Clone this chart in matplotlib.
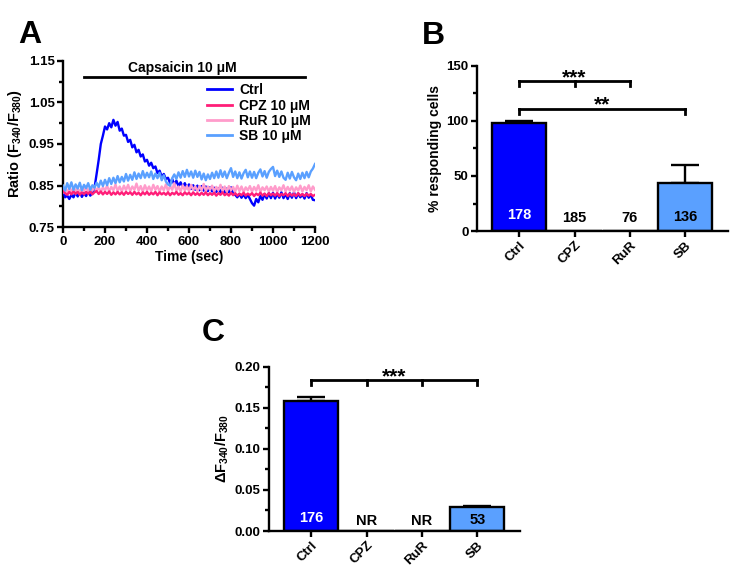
import numpy as np
import matplotlib
matplotlib.use("Agg")
import matplotlib.pyplot as plt
from matplotlib.ticker import MultipleLocator

plt.rcParams['font.family'] = ['Liberation Sans', 'DejaVu Sans']
plt.rcParams['font.weight'] = 'bold'
plt.rcParams['axes.labelweight'] = 'bold'
plt.rcParams['mathtext.fontset'] = 'custom'
plt.rcParams['mathtext.rm'] = 'Liberation Sans:bold'
plt.rcParams['mathtext.it'] = 'Liberation Sans:bold'
plt.rcParams['mathtext.bf'] = 'Liberation Sans:bold'

# ---------------- data ----------------
time_sec = list(range(0, 1201, 10))

ctrl_trace = [0.840, 0.822, 0.826, 0.818, 0.828, 0.822, 0.834, 0.824, 0.835, 0.823,
              0.832, 0.825, 0.836, 0.826, 0.833, 0.845, 0.878, 0.912, 0.950, 0.970,
              0.992, 0.985, 1.000, 0.990, 1.008, 0.994, 1.003, 0.982, 0.987, 0.970,
              0.972, 0.955, 0.960, 0.942, 0.948, 0.930, 0.936, 0.920, 0.925, 0.908,
              0.912, 0.898, 0.905, 0.892, 0.896, 0.880, 0.886, 0.872, 0.878, 0.866,
              0.869, 0.856, 0.866, 0.852, 0.862, 0.849, 0.858, 0.846, 0.856, 0.844,
              0.853, 0.842, 0.851, 0.840, 0.850, 0.839, 0.849, 0.838, 0.848, 0.837,
              0.846, 0.836, 0.845, 0.835, 0.844, 0.834, 0.845, 0.833, 0.843, 0.834,
              0.846, 0.830, 0.828, 0.822, 0.830, 0.821, 0.829, 0.820, 0.828, 0.818,
              0.808, 0.802, 0.818, 0.810, 0.825, 0.816, 0.830, 0.819, 0.832, 0.820,
              0.833, 0.819, 0.831, 0.821, 0.834, 0.820, 0.830, 0.818, 0.832, 0.821,
              0.834, 0.820, 0.831, 0.822, 0.829, 0.819, 0.832, 0.821, 0.828, 0.816,
              0.815]

cpz_trace = [0.837, 0.832, 0.828, 0.835, 0.829, 0.836, 0.830, 0.835, 0.828, 0.834,
             0.829, 0.835, 0.830, 0.836, 0.829, 0.834, 0.837, 0.830, 0.836, 0.829,
             0.835, 0.830, 0.836, 0.828, 0.834, 0.829, 0.835, 0.829, 0.834, 0.828,
             0.835, 0.830, 0.834, 0.828, 0.835, 0.829, 0.833, 0.827, 0.834, 0.829,
             0.835, 0.828, 0.833, 0.829, 0.835, 0.827, 0.834, 0.829, 0.833, 0.828,
             0.834, 0.827, 0.833, 0.829, 0.835, 0.828, 0.832, 0.827, 0.834, 0.829,
             0.833, 0.827, 0.834, 0.828, 0.832, 0.827, 0.833, 0.828, 0.834, 0.827,
             0.832, 0.828, 0.833, 0.826, 0.832, 0.828, 0.834, 0.827, 0.831, 0.826,
             0.833, 0.827, 0.832, 0.826, 0.831, 0.827, 0.833, 0.826, 0.831, 0.827,
             0.832, 0.825, 0.831, 0.827, 0.833, 0.826, 0.831, 0.825, 0.832, 0.827,
             0.831, 0.826, 0.832, 0.825, 0.830, 0.827, 0.832, 0.825, 0.831, 0.826,
             0.830, 0.825, 0.832, 0.826, 0.830, 0.825, 0.831, 0.826, 0.830, 0.825,
             0.828]

rur_trace = [0.834, 0.842, 0.835, 0.845, 0.836, 0.846, 0.837, 0.844, 0.834, 0.846,
             0.837, 0.848, 0.835, 0.845, 0.838, 0.849, 0.836, 0.847, 0.835, 0.846,
             0.838, 0.850, 0.836, 0.847, 0.839, 0.853, 0.837, 0.848, 0.836, 0.850,
             0.839, 0.852, 0.837, 0.848, 0.840, 0.855, 0.838, 0.849, 0.836, 0.851,
             0.839, 0.848, 0.837, 0.852, 0.840, 0.849, 0.836, 0.848, 0.839, 0.853,
             0.837, 0.849, 0.840, 0.856, 0.838, 0.848, 0.836, 0.851, 0.839, 0.849,
             0.837, 0.852, 0.840, 0.848, 0.836, 0.849, 0.839, 0.854, 0.837, 0.848,
             0.840, 0.850, 0.836, 0.847, 0.839, 0.852, 0.837, 0.848, 0.835, 0.849,
             0.839, 0.847, 0.836, 0.850, 0.837, 0.848, 0.835, 0.846, 0.839, 0.849,
             0.836, 0.847, 0.838, 0.851, 0.835, 0.846, 0.839, 0.848, 0.836, 0.847,
             0.838, 0.849, 0.835, 0.846, 0.839, 0.851, 0.836, 0.847, 0.838, 0.848,
             0.835, 0.846, 0.838, 0.850, 0.836, 0.847, 0.839, 0.851, 0.836, 0.848,
             0.840]

sb_trace = [0.850, 0.838, 0.856, 0.842, 0.858, 0.840, 0.853, 0.843, 0.857, 0.839,
            0.852, 0.844, 0.856, 0.840, 0.851, 0.845, 0.857, 0.847, 0.862, 0.849,
            0.864, 0.851, 0.868, 0.854, 0.869, 0.856, 0.873, 0.858, 0.871, 0.860,
            0.878, 0.862, 0.876, 0.864, 0.882, 0.866, 0.879, 0.868, 0.885, 0.869,
            0.881, 0.870, 0.884, 0.866, 0.879, 0.868, 0.881, 0.863, 0.875, 0.860,
            0.853, 0.850, 0.868, 0.877, 0.866, 0.882, 0.869, 0.885, 0.871, 0.888,
            0.872, 0.884, 0.869, 0.886, 0.871, 0.883, 0.865, 0.879, 0.863, 0.877,
            0.866, 0.881, 0.868, 0.884, 0.869, 0.887, 0.871, 0.884, 0.868, 0.881,
            0.892, 0.871, 0.884, 0.868, 0.882, 0.867, 0.880, 0.888, 0.870, 0.884,
            0.869, 0.883, 0.868, 0.881, 0.889, 0.872, 0.885, 0.869, 0.883, 0.890,
            0.895, 0.873, 0.886, 0.871, 0.884, 0.869, 0.864, 0.881, 0.867, 0.883,
            0.870, 0.863, 0.879, 0.866, 0.881, 0.868, 0.883, 0.870, 0.884, 0.891,
            0.902]

trace_labels = ['Ctrl', 'CPZ 10 μM', 'RuR 10 μM', 'SB 10 μM']

groups = ['Ctrl', 'CPZ', 'RuR', 'SB']
pct_resp = [98.5, 0, 0, 43.6]
pct_err = [1.8, 0, 0, 16.4]
pct_n = ['178', '185', '76', '136']

dratio = [0.1586, 0, 0, 0.0288]
dratio_err = [0.0044, 0, 0, 0.0020]
dratio_n = ['176', 'NR', 'NR', '53']

BLUE = '#0000FF'
LBLUE = '#5AA0FF'
HPINK = '#FF1E78'
LPINK = '#FF9CCB'
bar_colors = [BLUE, 'white', 'white', LBLUE]
n_colors = ['white', 'black', 'black', 'black']

W, H = 738, 577
fig = plt.figure(figsize=(W / 100, H / 100), dpi=100)

def ax_rect(l, r, t, b):
    return [l / W, 1 - b / H, (r - l) / W, (b - t) / H]

SPW = 1.7
TICK_FS = 9.5
LAB_FS = 10
def style(ax):
    for s in ['top', 'right']:
        ax.spines[s].set_visible(False)
    for s in ['left', 'bottom']:
        ax.spines[s].set_linewidth(SPW)
    ax.tick_params(which='major', length=4, width=SPW, labelsize=TICK_FS, pad=2)
    ax.tick_params(which='minor', length=3, width=SPW)
    for lab in ax.get_xticklabels() + ax.get_yticklabels():
        lab.set_fontweight('bold')

# ---------------- Panel A ----------------
axA = fig.add_axes(ax_rect(63, 315, 60.7, 227.3))
LW = 1.7
axA.plot(time_sec, ctrl_trace, color=BLUE, lw=LW, label=trace_labels[0], zorder=3)
axA.plot(time_sec, rur_trace, color=LPINK, lw=LW, label=trace_labels[2], zorder=3)
axA.plot(time_sec, cpz_trace, color=HPINK, lw=LW, label=trace_labels[1], zorder=4)
axA.plot(time_sec, sb_trace, color=LBLUE, lw=LW, label=trace_labels[3], zorder=5)
axA.set_xlim(0, 1200)
axA.set_ylim(0.75, 1.15)
axA.set_xticks([0, 200, 400, 600, 800, 1000, 1200])
axA.xaxis.set_minor_locator(MultipleLocator(100))
axA.set_yticks([0.75, 0.85, 0.95, 1.05, 1.15])
axA.yaxis.set_minor_locator(MultipleLocator(0.05))
axA.set_yticklabels(['0.75', '0.85', '0.95', '1.05', '1.15'])
style(axA)
axA.set_xlabel('Time (sec)', fontsize=LAB_FS, labelpad=2)
axA.set_ylabel('Ratio (F$_{340}$/F$_{380}$)', fontsize=LAB_FS + 0.5, labelpad=3)
axA.plot([100, 1150], [1.11, 1.11], color='black', lw=2.0, clip_on=False)
axA.text(570, 1.116, 'Capsaicin 10 μM', ha='center', va='bottom', fontsize=LAB_FS, fontweight='bold')
h, l = axA.get_legend_handles_labels()
order = [0, 2, 1, 3]
leg = axA.legend([h[i] for i in order], [l[i] for i in order], loc='upper left',
                 bbox_to_anchor=(0.572, 0.865), frameon=False, fontsize=LAB_FS,
                 handlelength=1.8, handletextpad=0.5, labelspacing=0.1,
                 borderpad=0, borderaxespad=0)
for t in leg.get_texts():
    t.set_fontweight('bold')
for ln in leg.get_lines():
    ln.set_linewidth(2.0)

# ---------------- bar helper ----------------
def bar_panel(ax, vals, errs, ns, ymax, ny, bracket_sets):
    x = np.arange(len(groups))
    ax.bar(x, vals, width=0.98, color=bar_colors, edgecolor='black', linewidth=SPW, zorder=2)
    for i in range(len(groups)):
        if errs[i] > 0:
            ax.errorbar(x[i], vals[i], yerr=[[0], [errs[i]]], fmt='none', ecolor='black',
                        elinewidth=SPW, capsize=10, capthick=SPW, zorder=1)
        ax.text(x[i], ny[i], ns[i], ha='center', va='center', fontsize=10.5,
                fontweight='bold', color=n_colors[i], zorder=4)
    ax.set_xlim(-0.76, 3.77)
    ax.set_ylim(0, ymax)
    ax.set_xticks(x)
    ax.set_xticklabels(groups, rotation=45, ha='right', rotation_mode='anchor')
    style(ax)
    for (xs, yb, dy, label, ty) in bracket_sets:
        ax.plot([xs[0], xs[-1]], [yb, yb], color='black', lw=SPW + 0.3, clip_on=False)
        for xx in xs:
            ax.plot([xx, xx], [yb, yb - dy], color='black', lw=SPW + 0.3, clip_on=False)
        ax.text((xs[0] + xs[-1]) / 2 if len(xs) != 3 else 1.0, ty, label, ha='center',
                va='center', fontsize=15, fontweight='bold')

# ---------------- Panel B ----------------
axB = fig.add_axes(ax_rect(477, 728, 66, 231))
bar_panel(axB, pct_resp, pct_err, pct_n, 150, [14.5, 12, 12, 13],
          [([0, 1, 2], 136, 4.5, '***', 139.5), ([0, 3], 111, 4.5, '**', 114.5)])
axB.set_yticks([0, 50, 100, 150])
axB.yaxis.set_minor_locator(MultipleLocator(25))
axB.set_ylabel('% responding cells', fontsize=LAB_FS, labelpad=3)
style(axB)

# ---------------- Panel C ----------------
axC = fig.add_axes(ax_rect(269, 520, 366.7, 531))
bar_panel(axC, dratio, dratio_err, dratio_n, 0.20, [0.016, 0.012, 0.012, 0.013],
          [([0, 1, 2, 3], 0.1834, 0.006, '***', 0.1875)])
axC.set_yticks([0, 0.05, 0.10, 0.15, 0.20])
axC.set_yticklabels(['0.00', '0.05', '0.10', '0.15', '0.20'])
axC.yaxis.set_minor_locator(MultipleLocator(0.025))
axC.set_ylabel('ΔF$_{340}$/F$_{380}$', fontsize=LAB_FS + 0.5, labelpad=3)
style(axC)

# panel letters
fig.text(29.5 / W, 1 - 35 / H, 'A', fontsize=23, fontweight='bold', ha='center', va='center')
fig.text(433 / W, 1 - 36 / H, 'B', fontsize=23, fontweight='bold', ha='center', va='center')
fig.text(213.5 / W, 1 - 333 / H, 'C', fontsize=23, fontweight='bold', ha='center', va='center')

fig.savefig('out.png', dpi=100)
